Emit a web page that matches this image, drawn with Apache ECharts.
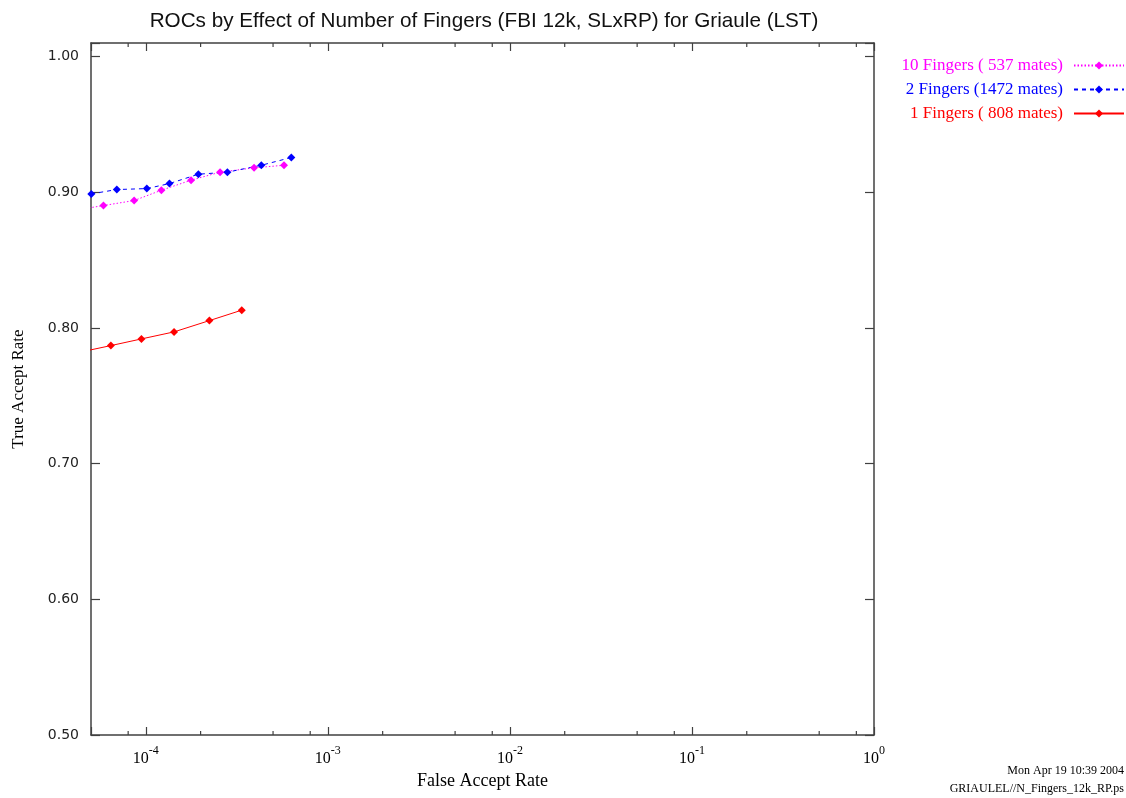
<!DOCTYPE html>
<html><head><meta charset="utf-8">
<script src="https://cdn.jsdelivr.net/npm/echarts@6/dist/echarts.min.js"></script>
<style>html,body{margin:0;padding:0;background:#fff}#c{width:1126px;height:798px}</style>
</head><body><div id="c"></div>
<script>
const titleText = 'ROCs by Effect of Number of Fingers (FBI 12k, SLxRP) for Griaule (LST)';
const xAxisName = 'False Accept Rate';
const yAxisName = 'True Accept Rate';
const seriesNames = ['10 Fingers ( 537 mates)', '2 Fingers (1472 mates)', '1 Fingers ( 808 mates)'];
const far10 = [4.09e-5, 5.85e-5, 8.63e-5, 1.218e-4, 1.773e-4, 2.558e-4, 3.931e-4, 5.745e-4];
const tar10 = [0.8868, 0.8902, 0.8939, 0.9015, 0.9089, 0.9148, 0.9180, 0.9199];
const far2 = [5.02e-5, 6.93e-5, 1.013e-4, 1.348e-4, 1.944e-4, 2.805e-4, 4.311e-4, 6.30e-4];
const tar2 = [0.8988, 0.9020, 0.9027, 0.9064, 0.9133, 0.9148, 0.9199, 0.9256];
const far1 = [4.3e-5, 6.43e-5, 9.46e-5, 1.43e-4, 2.234e-4, 3.365e-4];
const tar1 = [0.7820, 0.7870, 0.7919, 0.7971, 0.8054, 0.8131];
const xMinorTicks = [8e-5, 2e-4, 5e-4, 8e-4, 2e-3, 5e-3, 8e-3, 2e-2, 5e-2, 8e-2, 2e-1, 5e-1, 8e-1];
const yTickLabels = ['0.50', '0.60', '0.70', '0.80', '0.90', '1.00'];
const footerLines = ['Mon Apr 19 10:39 2004', 'GRIAULEL//N_Fingers_12k_RP.ps'];

const X_MIN = 5e-5, X_MAX = 1, Y_MIN = 0.5, Y_MAX = 1.01;
const colors = ['#ff00ff', '#0000ff', '#ff0000'];
const dashes = [[1.5, 2], [4, 4], 'solid'];
const axisColor = '#404040';
const serif = '"Liberation Serif", "Times New Roman", serif';

const chart = echarts.init(document.getElementById('c'), null, {renderer: 'canvas'});

function xLabel(v) {
  const e = Math.log10(v);
  const r = Math.round(e);
  if (Math.abs(e - r) > 1e-6) return '';
  return '{b|10}{e|' + r + '}';
}
function yLabel(v) {
  const idx = Math.round((v - Y_MIN) / 0.1);
  if (Math.abs(v - (Y_MIN + idx * 0.1)) > 1e-6) return '';
  return yTickLabels[idx] || '';
}

const lineAxis = {show: true, lineStyle: {color: axisColor, width: 1.5}};
const tickStyle = {color: axisColor, width: 1.2};

const pairs = [[far10, tar10], [far2, tar2], [far1, tar1]];

const lineSeries = pairs.map((p, i) => ({
  name: seriesNames[i],
  type: 'line',
  xAxisIndex: 0, yAxisIndex: 0,
  data: p[0].map((x, j) => [x, p[1][j]]),
  symbol: 'diamond',
  symbolSize: 8,
  clip: true,
  color: colors[i],
  lineStyle: {color: colors[i], width: 1, type: dashes[i]},
  itemStyle: {color: colors[i]},
  animation: false,
  z: 5
}));

const minorTickSeries = {
  type: 'custom',
  xAxisIndex: 0, yAxisIndex: 0,
  silent: true,
  animation: false,
  data: xMinorTicks.map(v => [v, Y_MIN]),
  encode: {x: 0, y: 1},
  renderItem: function (params, api) {
    const b = api.coord([api.value(0), Y_MIN]);
    const t = api.coord([api.value(0), Y_MAX]);
    return {type: 'group', children: [
      {type: 'line', shape: {x1: b[0], y1: b[1], x2: b[0], y2: b[1] - 4}, style: {stroke: axisColor, lineWidth: 1.2}},
      {type: 'line', shape: {x1: t[0], y1: t[1], x2: t[0], y2: t[1] + 4}, style: {stroke: axisColor, lineWidth: 1.2}}
    ]};
  },
  z: 3
};

const option = {
  backgroundColor: '#ffffff',
  animation: false,
  color: colors,
  title: {
    text: titleText,
    left: 479,
    textAlign: 'center',
    top: 6,
    textStyle: {fontFamily: '"Liberation Sans", Arial, sans-serif', fontSize: 20.7, fontWeight: 'normal', color: '#111'}
  },
  grid: {left: 91, right: 252, top: 43, bottom: 63, containLabel: false, outerBoundsMode: 'none', show: false},
  legend: {
    data: seriesNames.map((n, i) => ({name: n, textStyle: {color: colors[i]}})),
    orient: 'vertical',
    align: 'right',
    right: 1,
    top: 57,
    padding: 0,
    itemWidth: 50,
    itemHeight: 10,
    itemGap: 7,
    selectedMode: false,
    textStyle: {fontFamily: serif, fontSize: 17, padding: [0, 6, 0, 0]}
  },
  xAxis: [
    {
      type: 'log', logBase: 10, min: X_MIN, max: X_MAX, position: 'bottom',
      axisLine: lineAxis,
      axisTick: {show: true, inside: true, length: 8, lineStyle: tickStyle},
      minorTick: {show: false},
      splitLine: {show: false},
      axisLabel: {
        formatter: xLabel, margin: 10, color: '#000',
        rich: {
          b: {fontFamily: serif, fontSize: 16, lineHeight: 22, verticalAlign: 'bottom', color: '#000'},
          e: {fontFamily: serif, fontSize: 12, lineHeight: 12, verticalAlign: 'top', color: '#000'}
        }
      },
      name: xAxisName, nameLocation: 'middle', nameGap: 32,
      nameTextStyle: {fontFamily: serif, fontSize: 18, color: '#000'}
    },
    {
      type: 'log', logBase: 10, min: X_MIN, max: X_MAX, position: 'top',
      axisLine: lineAxis,
      axisTick: {show: true, inside: true, length: 8, lineStyle: tickStyle},
      axisLabel: {show: false},
      splitLine: {show: false}
    }
  ],
  yAxis: [
    {
      type: 'value', min: Y_MIN, max: Y_MAX, interval: 0.1, position: 'left',
      axisLine: lineAxis,
      axisTick: {show: true, inside: true, length: 9, lineStyle: tickStyle},
      splitLine: {show: false},
      axisLabel: {formatter: yLabel, margin: 12, fontFamily: '"DejaVu Sans", Verdana, sans-serif', fontSize: 14, color: '#222'},
      name: yAxisName, nameLocation: 'middle', nameGap: 64, nameRotate: 90,
      nameTextStyle: {fontFamily: serif, fontSize: 17, color: '#000'}
    },
    {
      type: 'value', min: Y_MIN, max: Y_MAX, interval: 0.1, position: 'right',
      axisLine: lineAxis,
      axisTick: {show: true, inside: true, length: 9, lineStyle: tickStyle},
      splitLine: {show: false},
      axisLabel: {show: false}
    }
  ],
  graphic: [
    {type: 'text', right: 2, top: 765, style: {text: footerLines[0], font: '12px ' + serif, fill: '#000'}},
    {type: 'text', right: 2, top: 783, style: {text: footerLines[1], font: '12px ' + serif, fill: '#000'}}
  ],
  series: lineSeries.concat([minorTickSeries])
};

chart.setOption(option);
</script>
</body></html>
